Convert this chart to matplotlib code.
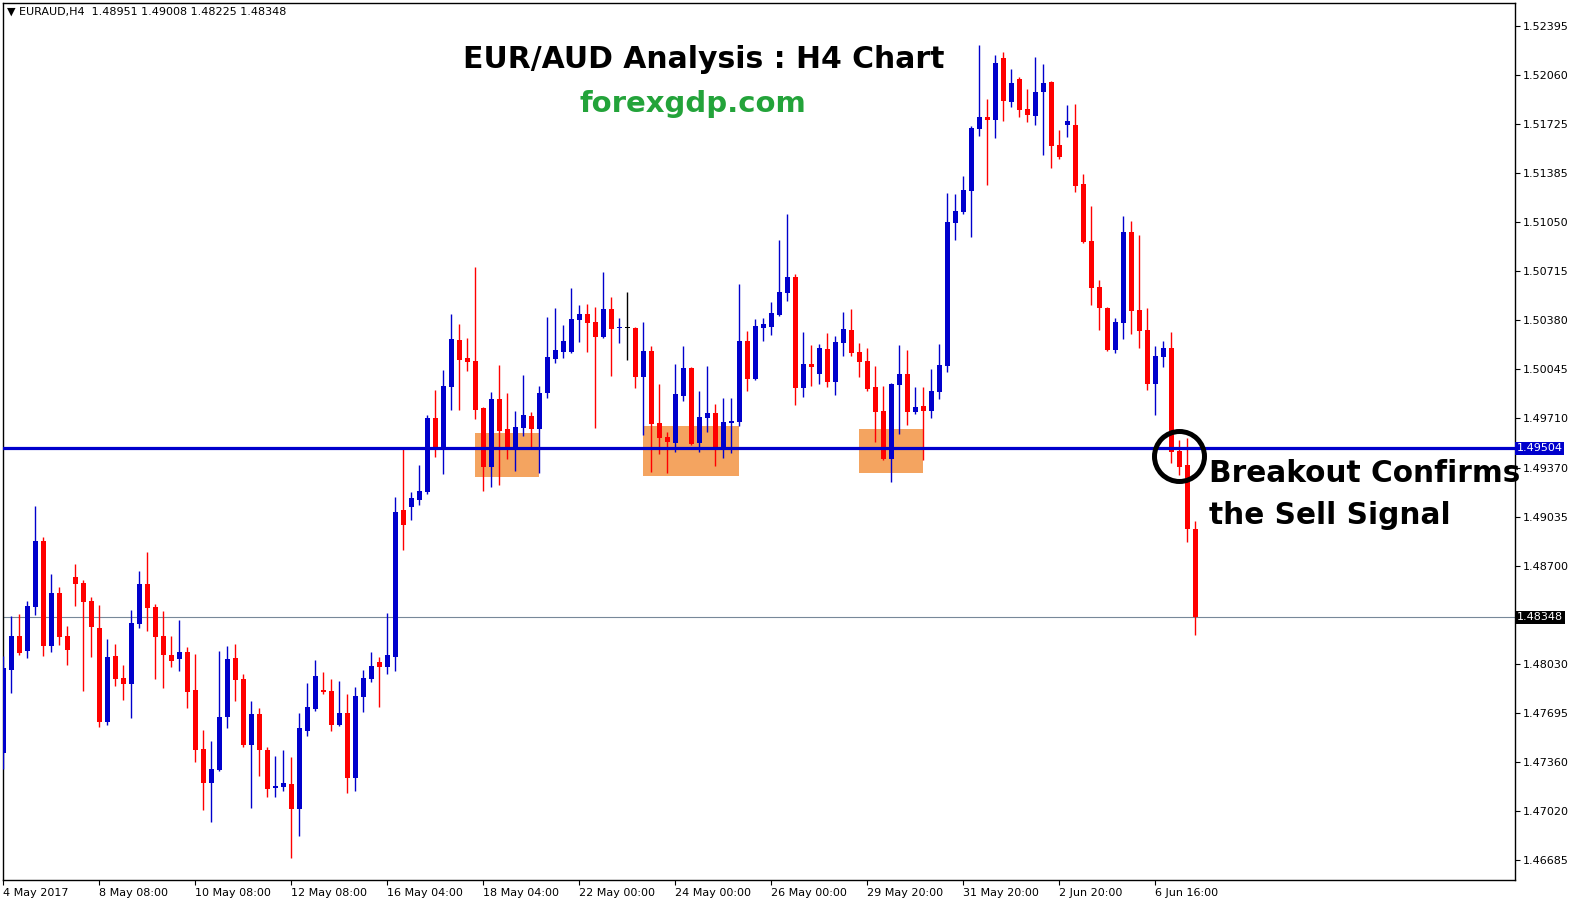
import numpy as np
import matplotlib
matplotlib.use("Agg")
from matplotlib import pyplot as plt
from matplotlib import transforms

# EURAUD H4 candles (index 0 = 4 May 2017)
opens = [1.47420, 1.47987, 1.48220, 1.48118, 1.48419, 1.48870, 1.48152, 1.48514, 1.48220, 1.48624,
         1.48583, 1.48460, 1.48275, 1.47632, 1.48084, 1.47933, 1.47892, 1.48302, 1.48576, 1.48419,
         1.48220, 1.48091, 1.48063, 1.48111, 1.47851, 1.47447, 1.47215, 1.47303, 1.47666, 1.48070,
         1.47927, 1.47474, 1.47687, 1.47441, 1.47181, 1.47188, 1.47208, 1.47037, 1.47571, 1.47721,
         1.47851, 1.47844, 1.47612, 1.47694, 1.47249, 1.47803, 1.47927, 1.48042, 1.48008, 1.48077,
         1.49082, 1.49103, 1.49151, 1.49205, 1.49711, 1.49506, 1.49923, 1.50245, 1.50122, 1.50101,
         1.49780, 1.49376, 1.49841, 1.49636, 1.49513, 1.49643, 1.49725, 1.49636, 1.49882, 1.50115,
         1.50163, 1.50163, 1.50381, 1.50423, 1.50368, 1.50266, 1.50457, 1.50324, 1.50327, 1.50327,
         1.49992, 1.50169, 1.49677, 1.49581, 1.49540, 1.49861, 1.50053, 1.49540, 1.49711, 1.49745,
         1.49513, 1.49677, 1.49683, 1.50238, 1.49978, 1.50327, 1.50334, 1.50416, 1.50566, 1.50676,
         1.49916, 1.50081, 1.50012, 1.50183, 1.49958, 1.50224, 1.50314, 1.50163, 1.50101, 1.49923,
         1.49759, 1.49431, 1.49937, 1.50010, 1.49752, 1.49794, 1.49759, 1.49889, 1.50067, 1.51045,
         1.51120, 1.51264, 1.51689, 1.51770, 1.51749, 1.52174, 1.51873, 1.52031, 1.51825, 1.51777,
         1.51941, 1.52010, 1.51578, 1.51715, 1.51715, 1.51312, 1.50922, 1.50608, 1.50464, 1.50176,
         1.50361, 1.50984, 1.50450, 1.50314, 1.49944, 1.50129, 1.50189, 1.49486, 1.49390, 1.48951]
highs = [1.48084, 1.48357, 1.48371, 1.48460, 1.49110, 1.48897, 1.48645, 1.48555, 1.48289, 1.48713,
         1.48604, 1.48487, 1.48433, 1.48200, 1.48165, 1.48022, 1.48398, 1.48665, 1.48795, 1.48439,
         1.48391, 1.48220, 1.48329, 1.48145, 1.48098, 1.47578, 1.47502, 1.48118, 1.48152, 1.48165,
         1.47960, 1.47776, 1.47728, 1.47461, 1.47400, 1.47441, 1.47393, 1.47694, 1.47899, 1.48056,
         1.47974, 1.47927, 1.47913, 1.47823, 1.47871, 1.47987, 1.48111, 1.48077, 1.48378, 1.49171,
         1.49500, 1.49205, 1.49390, 1.49732, 1.49903, 1.50039, 1.50423, 1.50355, 1.50259, 1.50744,
         1.49787, 1.49889, 1.50074, 1.49882, 1.49759, 1.50006, 1.49752, 1.49930, 1.50402, 1.50464,
         1.50348, 1.50601, 1.50485, 1.50491, 1.50471, 1.50710, 1.50539, 1.50395, 1.50573, 1.50334,
         1.50368, 1.50203, 1.49944, 1.49616, 1.50081, 1.50203, 1.50060, 1.49896, 1.50067, 1.49807,
         1.49848, 1.49848, 1.50628, 1.50307, 1.50388, 1.50395, 1.50505, 1.50928, 1.51107, 1.50697,
         1.50300, 1.50210, 1.50217, 1.50293, 1.50272, 1.50436, 1.50457, 1.50224, 1.50189, 1.50067,
         1.49930, 1.49951, 1.50210, 1.50176, 1.49923, 1.49923, 1.50046, 1.50217, 1.51250, 1.51243,
         1.51367, 1.51709, 1.52262, 1.51893, 1.52195, 1.52215, 1.52098, 1.52044, 1.51962, 1.52181,
         1.52133, 1.52017, 1.51682, 1.51853, 1.51859, 1.51380, 1.51162, 1.50656, 1.50471, 1.50395,
         1.51093, 1.51059, 1.50963, 1.50464, 1.50203, 1.50238, 1.50300, 1.49560, 1.49574, 1.49008]
lows = [1.47310, 1.47830, 1.48091, 1.48070, 1.48364, 1.48084, 1.48111, 1.48158, 1.48022, 1.48426,
        1.47844, 1.48077, 1.47598, 1.47611, 1.47878, 1.47783, 1.47659, 1.48275, 1.48255, 1.47927,
        1.47865, 1.48008, 1.47980, 1.47728, 1.47358, 1.47030, 1.46948, 1.47296, 1.47591, 1.47776,
        1.47461, 1.47044, 1.47263, 1.47119, 1.47119, 1.47160, 1.46702, 1.46852, 1.47536, 1.47707,
        1.47823, 1.47571, 1.47605, 1.47146, 1.47160, 1.47700, 1.47906, 1.47735, 1.47960, 1.47980,
        1.48809, 1.49013, 1.49117, 1.49191, 1.49445, 1.49328, 1.49766, 1.49766, 1.50032, 1.49704,
        1.49212, 1.49240, 1.49253, 1.49431, 1.49349, 1.49588, 1.49513, 1.49335, 1.49848, 1.50087,
        1.50122, 1.50156, 1.50231, 1.50163, 1.49643, 1.50259, 1.49999, 1.50224, 1.50108, 1.49916,
        1.49595, 1.49342, 1.49465, 1.49335, 1.49479, 1.49828, 1.49526, 1.49479, 1.49616, 1.49383,
        1.49438, 1.49472, 1.49657, 1.49896, 1.49971, 1.50238, 1.50279, 1.50409, 1.50512, 1.49801,
        1.49855, 1.49930, 1.49944, 1.49923, 1.49868, 1.50136, 1.50136, 1.49992, 1.49896, 1.49547,
        1.49424, 1.49274, 1.49602, 1.49663, 1.49738, 1.49424, 1.49711, 1.49841, 1.50025, 1.50928,
        1.51107, 1.50949, 1.51640, 1.51305, 1.51626, 1.51742, 1.51839, 1.51770, 1.51736, 1.51715,
        1.51511, 1.51421, 1.51483, 1.51634, 1.51257, 1.50908, 1.50485, 1.50314, 1.50170, 1.50156,
        1.50252, 1.50286, 1.50189, 1.49903, 1.49732, 1.50060, 1.49403, 1.49322, 1.48863, 1.48225]
closes = [1.48001, 1.48220, 1.48104, 1.48426, 1.48870, 1.48152, 1.48514, 1.48213, 1.48124, 1.48576,
          1.48453, 1.48282, 1.47632, 1.48077, 1.47927, 1.47892, 1.48309, 1.48576, 1.48412, 1.48213,
          1.48091, 1.48049, 1.48111, 1.47837, 1.47441, 1.47215, 1.47310, 1.47666, 1.48063, 1.47920,
          1.47474, 1.47687, 1.47441, 1.47174, 1.47194, 1.47215, 1.47037, 1.47591, 1.47735, 1.47947,
          1.47837, 1.47612, 1.47694, 1.47249, 1.47809, 1.47933, 1.48015, 1.48008, 1.48091, 1.49068,
          1.48980, 1.49164, 1.49212, 1.49711, 1.49513, 1.49930, 1.50252, 1.50108, 1.50094, 1.49766,
          1.49376, 1.49841, 1.49623, 1.49513, 1.49650, 1.49732, 1.49636, 1.49882, 1.50129, 1.50176,
          1.50238, 1.50388, 1.50423, 1.50361, 1.50266, 1.50457, 1.50320, 1.50330, 1.50327, 1.49992,
          1.50169, 1.49670, 1.49574, 1.49547, 1.49875, 1.50053, 1.49533, 1.49718, 1.49745, 1.49513,
          1.49683, 1.49690, 1.50238, 1.49978, 1.50341, 1.50354, 1.50429, 1.50573, 1.50676, 1.49916,
          1.50081, 1.50060, 1.50189, 1.49958, 1.50231, 1.50320, 1.50156, 1.50094, 1.49909, 1.49752,
          1.49431, 1.49944, 1.50010, 1.49752, 1.49787, 1.49759, 1.49896, 1.50074, 1.51052, 1.51127,
          1.51271, 1.51695, 1.51770, 1.51749, 1.52140, 1.51879, 1.52003, 1.51818, 1.51784, 1.51941,
          1.52003, 1.51572, 1.51497, 1.51742, 1.51298, 1.50915, 1.50601, 1.50464, 1.50176, 1.50368,
          1.50984, 1.50443, 1.50307, 1.49944, 1.50136, 1.50189, 1.49479, 1.49376, 1.48951, 1.48348]

date_tick_idx = [0, 12, 24, 36, 48, 60, 72, 84, 96, 108, 120, 132, 144]
date_tick_labels = ["4 May 2017", "8 May 08:00", "10 May 08:00", "12 May 08:00", "16 May 04:00",
                    "18 May 04:00", "22 May 00:00", "24 May 00:00", "26 May 00:00", "29 May 20:00",
                    "31 May 20:00", "2 Jun 20:00", "6 Jun 16:00"]
price_ticks = [1.52395, 1.52060, 1.51725, 1.51385, 1.51050, 1.50715, 1.50380, 1.50045, 1.49710,
               1.49370, 1.49035, 1.48700, 1.48030, 1.47695, 1.47360, 1.47020, 1.46685]

support_level = 1.49504
last_price = 1.48348

# orange consolidation zones (candle index span, price span)
zone_start = [58.9, 79.9, 106.9]
zone_end = [66.9, 91.9, 114.9]
zone_top = [1.49609, 1.49657, 1.49636]
zone_bottom = [1.49308, 1.49315, 1.49335]

breakout_idx = 147
breakout_price = 1.49449

BULL = "#0000CC"
BEAR = "#FF0000"
W, H = 1575, 902

o = np.array(opens)
h = np.array(highs)
l = np.array(lows)
c = np.array(closes)
x = np.arange(len(o))
colors = np.where(c > o, BULL, np.where(c < o, BEAR, "black"))

fig = plt.figure(figsize=(W / 100, H / 100), dpi=100)
ax = fig.add_axes([2.5 / W, 1 - 880 / H, 1512.5 / W, 877 / H])

# zones behind candles
for x0, x1, top, bot in zip(zone_start, zone_end, zone_top, zone_bottom):
    ax.fill_between([x0, x1], bot, top, color="#F4A460", lw=0, zorder=1)

ax.vlines(x, l, h, colors=colors, lw=1.0, zorder=3)
body_h = np.maximum(np.abs(c - o), 0.00007)
ax.bar(x, body_h, bottom=np.minimum(o, c), width=0.62, color=colors, lw=0, zorder=3)

ax.axhline(support_level, color="#0000CC", lw=2.3, zorder=4)
ax.axhline(last_price, color="#778899", lw=0.8, zorder=2)

ax.plot([breakout_idx], [breakout_price], marker="o", ms=36, mfc="none", mec="black",
        mew=3.6, zorder=6, clip_on=False)

ax.set_xlim(-0.125, 188.94)
ax.set_ylim(1.46551, 1.52550)

ax.yaxis.tick_right()
ax.set_yticks(price_ticks)
ax.set_yticklabels(["%.5f" % v for v in price_ticks])
ax.set_xticks(date_tick_idx)
ax.set_xticklabels(date_tick_labels)
for lab in ax.get_xticklabels():
    lab.set_ha("left")
ax.tick_params(axis="both", direction="out", length=3.5, width=0.8, labelsize=8, colors="black")
ax.tick_params(axis="y", pad=2)
ax.tick_params(axis="x", pad=2)
for s in ax.spines.values():
    s.set_linewidth(1.0)
    s.set_color("black")

# price labels on the right axis
trans = transforms.blended_transform_factory(ax.transAxes, ax.transData)
ax.text(1.0012, support_level, "%.5f" % support_level, transform=trans, ha="left", va="center",
        fontsize=8, color="white", zorder=7, clip_on=False,
        bbox=dict(boxstyle="square,pad=0.15", fc="#0000CC", ec="none"))
ax.text(1.0012, last_price, "%.5f" % last_price, transform=trans, ha="left", va="center",
        fontsize=8, color="white", zorder=7, clip_on=False,
        bbox=dict(boxstyle="square,pad=0.15", fc="black", ec="none"))

fig.text(7 / W, 1 - 12 / H,
         "\u25bc EURAUD,H4  %.5f %.5f %.5f %.5f" % (o[-1], h[-1], l[-1], c[-1]),
         fontsize=8, va="center", ha="left")
fig.text(704 / W, 1 - 60 / H, "EUR/AUD Analysis : H4 Chart", fontsize=21.5,
         fontweight="bold", ha="center", va="center")
fig.text(693 / W, 1 - 103.5 / H, "forexgdp.com", fontsize=21, fontweight="bold",
         color="#23A33A", ha="center", va="center")
fig.text(1209 / W, 1 - 473 / H, "Breakout Confirms", fontsize=21.3, fontweight="bold",
         ha="left", va="center")
fig.text(1209 / W, 1 - 516 / H, "the Sell Signal", fontsize=21.3, fontweight="bold",
         ha="left", va="center")

fig.savefig("out.png", dpi=100)
